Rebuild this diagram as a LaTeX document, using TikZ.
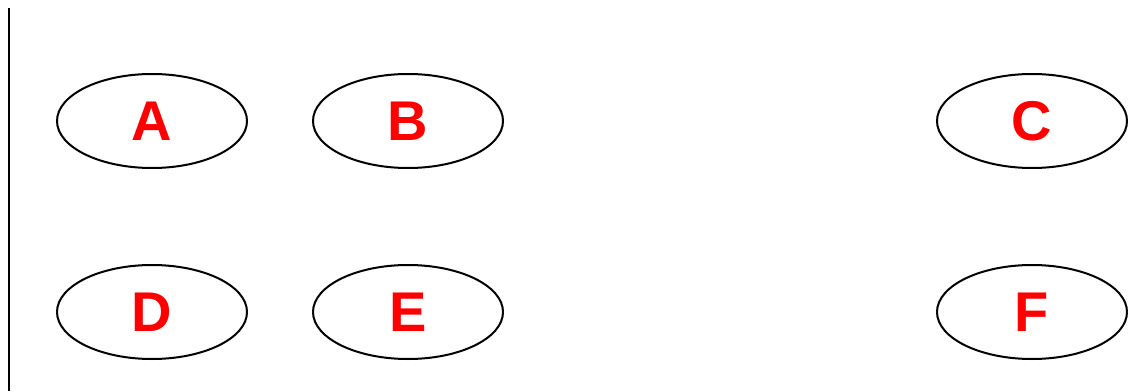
\documentclass[tikz,border=0pt]{standalone}
\usepackage{fontspec}
\setmainfont{Liberation Sans}
\usetikzlibrary{shapes.geometric}
\begin{document}
\begin{tikzpicture}[x=1pt,y=-1pt,
  oval/.style={ellipse, draw=black, line width=2pt, minimum width=190pt, minimum height=94pt, inner sep=0pt,
    text=red, font=\fontsize{56}{60}\selectfont\bfseries}]
\useasboundingbox (0,0) rectangle (1146,391);
\coordinate (top) at (9,8);
\coordinate (bot) at (9,391);
\draw[line width=2.5pt] (top) -- (bot);
\node[oval] (A) at (152,121) {A};
\node[oval] (B) at (408,121) {B};
\node[oval] (C) at (1032,121) {C};
\node[oval] (D) at (152,312) {D};
\node[oval] (E) at (408,312) {E};
\node[oval] (F) at (1032,312) {F};
\end{tikzpicture}
\end{document}
